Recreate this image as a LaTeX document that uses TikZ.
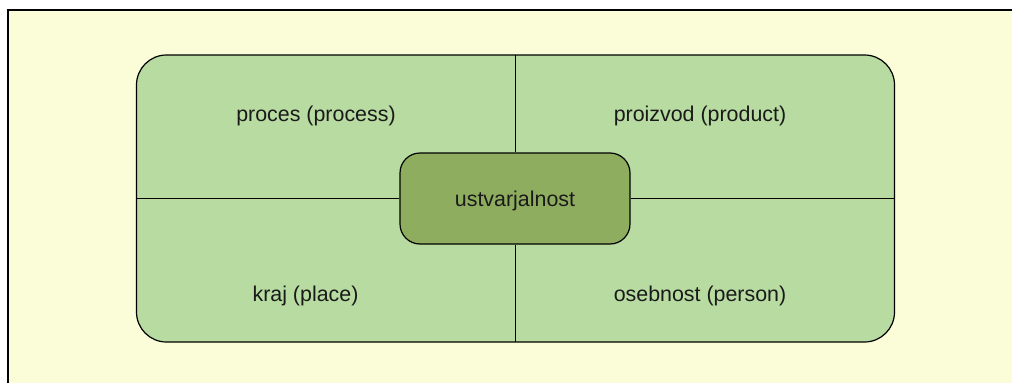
\documentclass[tikz,border=0pt]{standalone}
\usepackage{fontspec}
\setmainfont{Liberation Sans}
\definecolor{bgyellow}{RGB}{250,253,216}
\definecolor{quadgreen}{RGB}{183,219,160}
\definecolor{coregreen}{RGB}{143,173,95}
\definecolor{txt}{RGB}{26,26,26}
\tikzset{
  lbl/.style={font=\fontsize{21.4}{25}\selectfont, text=txt, inner sep=0pt},
  outline/.style={draw=black, line width=1.2pt}
}
\begin{document}
\begin{tikzpicture}[x=1pt,y=-1pt]
\useasboundingbox (0,0) rectangle (1012,383);
\fill[white] (0,0) rectangle (1012,383);
\fill[bgyellow] (8,10) rectangle (1012,383);
\draw[line width=1.2pt] (8,383) -- (8,10) -- (1012,10);
% big rounded rectangle
\node[outline, fill=quadgreen, rounded corners=30pt, minimum width=758pt, minimum height=287pt, inner sep=0pt] (frame) at (515.5,198.5) {};
\coordinate (ftop) at (515,55);
\coordinate (fbot) at (515,342);
\coordinate (fleft) at (136,198.5);
\coordinate (fright) at (895,198.5);
\node[outline, fill=coregreen, rounded corners=20pt, minimum width=230pt, minimum height=91pt, inner sep=0pt] (core) at (515,198.5) {};
\draw[line width=1pt] (ftop) -- (core.north);
\draw[line width=1pt] (fbot) -- (core.south);
\draw[line width=1pt] (fleft) -- (core.west);
\draw[line width=1pt] (fright) -- (core.east);
\node[lbl] (corelbl) at (515,201) {ustvarjalnost};
\node[lbl] (process) at (316,116) {proces (process)};
\node[lbl] (product) at (700,116) {proizvod (product)};
\node[lbl] (place) at (305.5,296) {kraj (place)};
\node[lbl] (person) at (700,296) {osebnost (person)};
\end{tikzpicture}
\end{document}
